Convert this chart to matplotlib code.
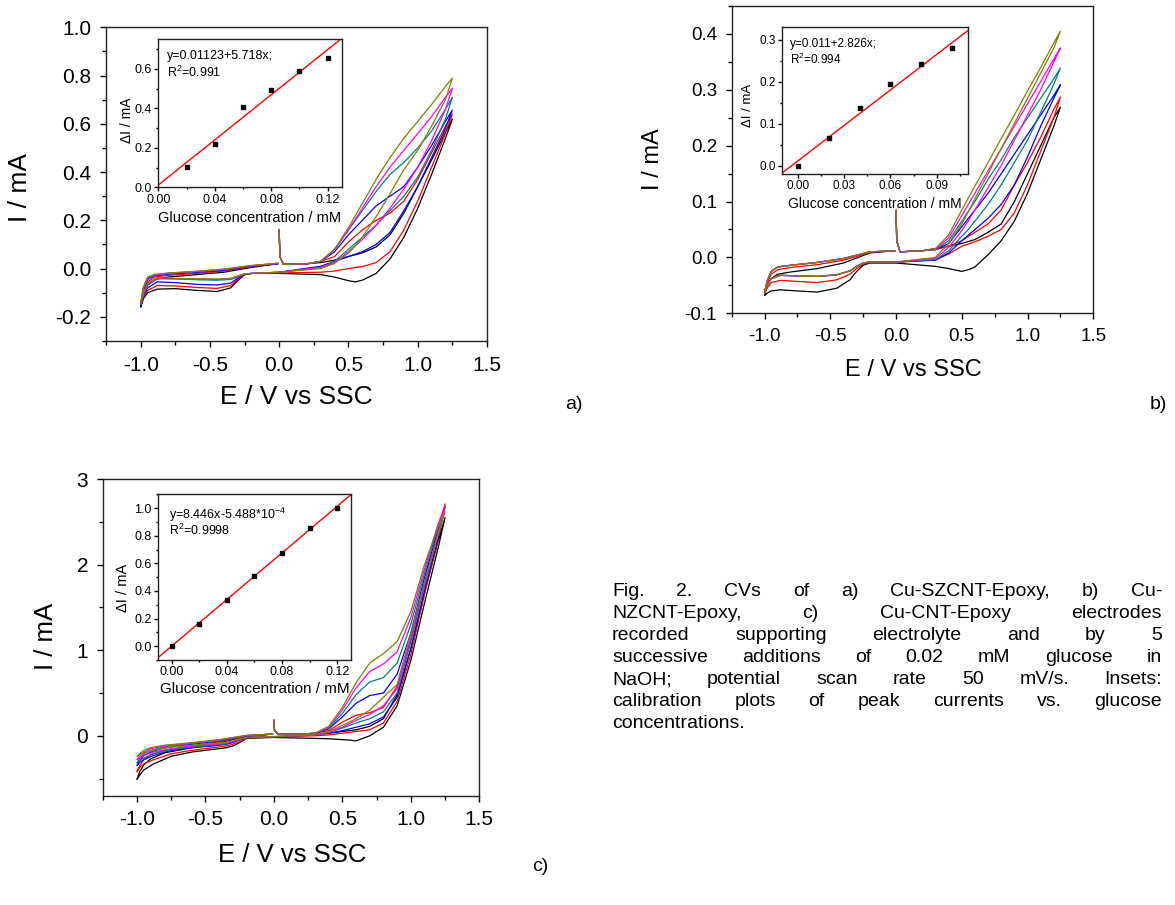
"""
plot.py
Purpose: CVs of three Cu/CNT-epoxy electrodes with calibration insets (Fig. 2)
"""

#%%# Import necessary libraries
import numpy as np
import matplotlib
matplotlib.use('Agg')
import matplotlib.pyplot as plt
from matplotlib.ticker import MultipleLocator, FormatStrFormatter

plt.rcParams['font.family'] = ['Liberation Sans', 'DejaVu Sans']
plt.rcParams['axes.unicode_minus'] = False
plt.rcParams['mathtext.fontset'] = 'custom'
plt.rcParams['mathtext.rm'] = 'Liberation Sans'
plt.rcParams['mathtext.it'] = 'Liberation Sans:italic'

# %%
# potential path of one cycle: start at 0 V (spike) -> 1.25 V -> -1.0 V -> 0 V
E_path = [0.0, 0.005, 0.03, 0.2, 0.3, 0.4, 0.5, 0.6, 0.7, 0.8, 0.9, 1.0, 1.1, 1.2, 1.25,
          1.2, 1.1, 1.0, 0.9, 0.8, 0.7, 0.6, 0.55, 0.5, 0.4, 0.3, 0.0, -0.2, -0.25, -0.3,
          -0.35, -0.45, -0.6, -0.75, -0.88, -0.95, -0.98, -1.0,
          -0.98, -0.95, -0.9, -0.8, -0.6, -0.4, -0.2, -0.01]

cv_colors = ['#000000', '#ff0000', '#0000ff', '#008080', '#ff00ff', '#808000']

# a) Cu-SZCNT-Epoxy, current in mA (black, red, blue, teal, magenta, olive)
cv_a = [
    [0.16, 0.05, 0.018, 0.02, 0.025, 0.035, 0.05, 0.065, 0.09, 0.14, 0.23, 0.34, 0.45, 0.565, 0.62,
     0.54, 0.39, 0.25, 0.13, 0.04, -0.02, -0.048, -0.055, -0.05, -0.035, -0.025, -0.02, -0.02, -0.025, -0.05,
     -0.08, -0.095, -0.09, -0.083, -0.085, -0.1, -0.125, -0.16,
     -0.11, -0.065, -0.045, -0.035, -0.025, -0.015, 0.005, 0.02],
    [0.16, 0.05, 0.018, 0.02, 0.03, 0.05, 0.11, 0.16, 0.2, 0.23, 0.28, 0.37, 0.48, 0.59, 0.64,
     0.56, 0.42, 0.28, 0.16, 0.07, 0.025, 0.008, 0.005, 0.0, -0.01, -0.015, -0.018, -0.02, -0.025, -0.045,
     -0.07, -0.082, -0.078, -0.072, -0.07, -0.09, -0.12, -0.155,
     -0.1, -0.055, -0.035, -0.028, -0.02, -0.01, 0.008, 0.02],
    [0.16, 0.05, 0.018, 0.02, 0.03, 0.07, 0.14, 0.2, 0.26, 0.3, 0.34, 0.42, 0.51, 0.61, 0.657,
     0.58, 0.46, 0.34, 0.24, 0.15, 0.1, 0.07, 0.06, 0.05, 0.03, 0.01, -0.015, -0.02, -0.025, -0.04,
     -0.06, -0.068, -0.065, -0.058, -0.055, -0.08, -0.115, -0.155,
     -0.09, -0.045, -0.03, -0.023, -0.016, -0.007, 0.01, 0.02],
    [0.16, 0.05, 0.018, 0.02, 0.03, 0.08, 0.16, 0.24, 0.32, 0.39, 0.44, 0.5, 0.57, 0.66, 0.71,
     0.62, 0.49, 0.38, 0.3, 0.24, 0.18, 0.13, 0.105, 0.08, 0.03, 0.005, -0.015, -0.02, -0.022, -0.035,
     -0.045, -0.048, -0.046, -0.043, -0.042, -0.07, -0.11, -0.15,
     -0.08, -0.04, -0.027, -0.02, -0.013, -0.004, 0.012, 0.022],
    [0.16, 0.05, 0.018, 0.02, 0.03, 0.08, 0.16, 0.25, 0.34, 0.42, 0.49, 0.56, 0.63, 0.71, 0.747,
     0.66, 0.53, 0.42, 0.33, 0.25, 0.18, 0.12, 0.095, 0.07, 0.025, 0.005, -0.015, -0.02, -0.022, -0.032,
     -0.042, -0.045, -0.044, -0.042, -0.04, -0.065, -0.105, -0.145,
     -0.08, -0.04, -0.026, -0.019, -0.012, -0.003, 0.012, 0.022],
    [0.16, 0.05, 0.018, 0.02, 0.03, 0.08, 0.17, 0.27, 0.37, 0.46, 0.54, 0.61, 0.68, 0.755, 0.789,
     0.7, 0.59, 0.49, 0.41, 0.31, 0.215, 0.13, 0.095, 0.065, 0.022, 0.0, -0.015, -0.02, -0.022, -0.03,
     -0.04, -0.043, -0.042, -0.04, -0.038, -0.06, -0.1, -0.14,
     -0.075, -0.035, -0.024, -0.018, -0.011, -0.002, 0.013, 0.022],
]

# b) Cu-NZCNT-Epoxy
cv_b = [
    [0.084, 0.03, 0.01, 0.012, 0.016, 0.02, 0.025, 0.032, 0.045, 0.06, 0.1, 0.15, 0.2, 0.25, 0.269,
     0.235, 0.175, 0.115, 0.065, 0.03, 0.005, -0.017, -0.022, -0.025, -0.02, -0.016, -0.01, -0.01, -0.014, -0.025,
     -0.04, -0.055, -0.062, -0.06, -0.058, -0.06, -0.064, -0.068,
     -0.05, -0.038, -0.03, -0.026, -0.02, -0.01, 0.008, 0.012],
    [0.084, 0.03, 0.01, 0.012, 0.014, 0.02, 0.03, 0.045, 0.06, 0.085, 0.13, 0.17, 0.215, 0.265, 0.287,
     0.25, 0.19, 0.13, 0.08, 0.05, 0.038, 0.028, 0.024, 0.02, 0.006, -0.004, -0.009, -0.009, -0.012, -0.02,
     -0.03, -0.04, -0.045, -0.043, -0.041, -0.045, -0.055, -0.065,
     -0.045, -0.03, -0.022, -0.018, -0.013, -0.005, 0.009, 0.012],
    [0.084, 0.03, 0.01, 0.012, 0.014, 0.025, 0.055, 0.085, 0.115, 0.15, 0.185, 0.22, 0.255, 0.29, 0.309,
     0.285, 0.235, 0.18, 0.13, 0.095, 0.07, 0.05, 0.04, 0.03, 0.008, -0.005, -0.008, -0.008, -0.01, -0.016,
     -0.024, -0.031, -0.034, -0.033, -0.032, -0.038, -0.05, -0.062,
     -0.042, -0.025, -0.017, -0.014, -0.009, -0.002, 0.01, 0.012],
    [0.084, 0.03, 0.01, 0.012, 0.014, 0.03, 0.065, 0.1, 0.14, 0.175, 0.215, 0.25, 0.285, 0.32, 0.339,
     0.31, 0.26, 0.21, 0.17, 0.13, 0.095, 0.065, 0.05, 0.038, 0.012, -0.004, -0.008, -0.008, -0.01, -0.016,
     -0.024, -0.031, -0.034, -0.033, -0.032, -0.038, -0.05, -0.062,
     -0.042, -0.025, -0.017, -0.014, -0.009, -0.002, 0.01, 0.012],
    [0.084, 0.03, 0.01, 0.012, 0.015, 0.035, 0.075, 0.115, 0.155, 0.195, 0.235, 0.275, 0.315, 0.355, 0.375,
     0.35, 0.3, 0.255, 0.21, 0.165, 0.125, 0.085, 0.066, 0.048, 0.018, -0.002, -0.008, -0.008, -0.01, -0.016,
     -0.024, -0.031, -0.034, -0.033, -0.032, -0.038, -0.05, -0.062,
     -0.042, -0.025, -0.017, -0.014, -0.009, -0.002, 0.01, 0.012],
    [0.084, 0.03, 0.01, 0.012, 0.016, 0.04, 0.085, 0.128, 0.17, 0.213, 0.255, 0.298, 0.34, 0.384, 0.405,
     0.375, 0.33, 0.285, 0.24, 0.195, 0.15, 0.105, 0.082, 0.06, 0.025, 0.0, -0.008, -0.008, -0.01, -0.016,
     -0.024, -0.031, -0.034, -0.033, -0.032, -0.038, -0.05, -0.062,
     -0.042, -0.025, -0.017, -0.014, -0.009, -0.002, 0.01, 0.012],
]

# c) Cu-CNT-Epoxy
cv_c = [
    [0.18, 0.06, 0.02, 0.02, 0.02, 0.03, 0.05, 0.07, 0.11, 0.2, 0.48, 1.02, 1.68, 2.28, 2.55,
     2.2, 1.55, 0.88, 0.35, 0.1, 0.0, -0.06, -0.05, -0.045, -0.035, -0.03, -0.02, -0.03, -0.08, -0.12,
     -0.14, -0.16, -0.19, -0.24, -0.33, -0.4, -0.46, -0.51,
     -0.42, -0.34, -0.27, -0.2, -0.14, -0.08, -0.01, 0.02],
    [0.18, 0.06, 0.02, 0.02, 0.03, 0.06, 0.16, 0.24, 0.27, 0.33, 0.58, 1.12, 1.8, 2.4, 2.71,
     2.3, 1.65, 0.95, 0.4, 0.15, 0.07, 0.05, 0.04, 0.03, 0.01, 0.0, -0.015, -0.025, -0.07, -0.1,
     -0.12, -0.14, -0.17, -0.21, -0.28, -0.33, -0.37, -0.42,
     -0.35, -0.28, -0.22, -0.17, -0.12, -0.07, -0.005, 0.02],
    [0.18, 0.06, 0.02, 0.02, 0.03, 0.08, 0.22, 0.38, 0.47, 0.5, 0.72, 1.2, 1.85, 2.42, 2.68,
     2.32, 1.7, 1.02, 0.45, 0.22, 0.14, 0.1, 0.08, 0.06, 0.03, 0.01, -0.01, -0.02, -0.05, -0.08,
     -0.1, -0.12, -0.14, -0.17, -0.23, -0.28, -0.31, -0.35,
     -0.29, -0.23, -0.19, -0.14, -0.1, -0.06, 0.0, 0.02],
    [0.18, 0.06, 0.02, 0.02, 0.03, 0.09, 0.26, 0.48, 0.63, 0.68, 0.85, 1.3, 1.9, 2.45, 2.66,
     2.36, 1.75, 1.1, 0.5, 0.28, 0.2, 0.15, 0.12, 0.09, 0.04, 0.01, -0.01, -0.02, -0.045, -0.07,
     -0.09, -0.11, -0.13, -0.16, -0.21, -0.26, -0.29, -0.32,
     -0.27, -0.21, -0.17, -0.13, -0.09, -0.055, 0.0, 0.02],
    [0.18, 0.06, 0.02, 0.02, 0.03, 0.1, 0.3, 0.56, 0.75, 0.84, 0.98, 1.38, 1.95, 2.48, 2.68,
     2.38, 1.78, 1.15, 0.55, 0.35, 0.25, 0.18, 0.14, 0.1, 0.04, 0.01, -0.01, -0.02, -0.04, -0.065,
     -0.085, -0.1, -0.12, -0.15, -0.19, -0.23, -0.26, -0.28,
     -0.24, -0.19, -0.15, -0.12, -0.085, -0.05, 0.005, 0.02],
    [0.18, 0.06, 0.02, 0.02, 0.03, 0.11, 0.33, 0.62, 0.85, 0.96, 1.1, 1.45, 2.0, 2.45, 2.62,
     2.35, 1.8, 1.2, 0.6, 0.45, 0.3, 0.2, 0.16, 0.12, 0.05, 0.01, -0.01, -0.02, -0.035, -0.06,
     -0.075, -0.09, -0.11, -0.13, -0.17, -0.2, -0.22, -0.24,
     -0.21, -0.17, -0.14, -0.11, -0.08, -0.045, 0.005, 0.02],
]

# calibration insets
conc_a = [0.02, 0.04, 0.06, 0.08, 0.10, 0.12]
dI_a = [0.102, 0.219, 0.409, 0.495, 0.59, 0.653]
fit_a = (0.01123, 5.718)   # intercept, slope

conc_b = [0.0, 0.02, 0.04, 0.06, 0.08, 0.10]
dI_b = [0.0, 0.065, 0.138, 0.195, 0.242, 0.28]
fit_b = (0.011, 2.826)

conc_c = [0.0, 0.02, 0.04, 0.06, 0.08, 0.10, 0.12]
dI_c = [0.0, 0.164, 0.333, 0.507, 0.676, 0.857, 1.0]
fit_c = (-5.488e-4, 8.446)

caption_lines = [
    'Fig. 2. CVs of a) Cu-SZCNT-Epoxy, b) Cu-',
    'NZCNT-Epoxy, c) Cu-CNT-Epoxy electrodes',
    'recorded supporting electrolyte and by 5',
    'successive additions of 0.02 mM glucose in',
    'NaOH; potential scan rate 50 mV/s. Insets:',
    'calibration plots of peak currents vs. glucose',
    'concentrations.',
]

# %%
W, H = 1175, 905
fig = plt.figure(figsize=(W / 100, H / 100), dpi=100)


def px_axes(l, t, r, b):
    # axes from pixel box (left, top, right, bottom)
    return fig.add_axes([l / W, 1 - b / H, (r - l) / W, (b - t) / H])


def style(ax, fs, length=4, pad=4):
    ax.tick_params(which='both', direction='out', top=False, right=False,
                   labelsize=fs, width=1, colors='black')
    ax.tick_params(which='major', length=length, pad=pad)
    ax.tick_params(which='minor', length=length * 0.6)
    for s in ax.spines.values():
        s.set_linewidth(1.0)
        s.set_color('#222222')


def cv_panel(box, curves, ylim, ymaj, ymin, yfmt, fs, lfs, xl, yl):
    ax = px_axes(*box)
    for I, c in zip(curves, cv_colors):
        ax.plot(E_path, I, color=c, lw=0.9)
    ax.set_xlim(-1.25, 1.5)
    ax.set_ylim(*ylim)
    ax.xaxis.set_major_locator(MultipleLocator(0.5))
    ax.xaxis.set_minor_locator(MultipleLocator(0.25))
    ax.xaxis.set_major_formatter(FormatStrFormatter('%.1f'))
    ax.yaxis.set_major_locator(MultipleLocator(ymaj))
    ax.yaxis.set_minor_locator(MultipleLocator(ymin))
    ax.yaxis.set_major_formatter(FormatStrFormatter(yfmt))
    style(ax, fs, length=4.5, pad=6)
    ax.set_xlabel('E / V vs SSC', fontsize=lfs)
    ax.set_ylabel('I / mA', fontsize=lfs)
    ax.xaxis.set_label_coords(*xl)
    ax.yaxis.set_label_coords(*yl)
    return ax


def inset(box, conc, dI, fit, xlim, ylim, xmaj, ymaj, xfmt, yfmt, fs, lfs, txt, xl, yl):
    ax = px_axes(*box)
    xs = np.array(xlim)
    ax.plot(xs, fit[0] + fit[1] * xs, color='red', lw=1.0)
    ax.plot(conc, dI, 's', color='black', ms=3.2)
    ax.set_xlim(*xlim)
    ax.set_ylim(*ylim)
    ax.xaxis.set_major_locator(MultipleLocator(xmaj))
    ax.xaxis.set_minor_locator(MultipleLocator(xmaj / 2))
    ax.yaxis.set_major_locator(MultipleLocator(ymaj))
    ax.yaxis.set_minor_locator(MultipleLocator(ymaj / 2))
    ax.xaxis.set_major_formatter(FormatStrFormatter(xfmt))
    ax.yaxis.set_major_formatter(FormatStrFormatter(yfmt))
    style(ax, fs, length=3, pad=1.5)
    ax.set_xlabel('Glucose concentration / mM', fontsize=lfs)
    ax.set_ylabel('ΔI / mA', fontsize=lfs - 0.5)
    ax.xaxis.set_label_coords(*xl)
    ax.yaxis.set_label_coords(*yl)
    for (tx, ty, s) in txt:
        ax.text(tx, ty, s, transform=ax.transAxes, fontsize=fs, va='top', ha='left')
    return ax


# panel a
cv_panel((106, 27.3, 487, 341), cv_a, (-0.3, 1.0), 0.2, 0.1, '%.1f', 15, 19,
         (0.5, -0.14), (-0.195, 0.488))
inset((158.3, 39.3, 341.7, 187.3), conc_a, dI_a, fit_a, (0.0, 0.13), (0.0, 0.75),
      0.04, 0.2, '%.2f', '%.1f', 9, 10.5,
      [(0.046, 0.925, 'y=0.01123+5.718x;'), (0.046, 0.825, 'R$^2$=0.991')],
      (0.5, -0.16), (-0.13, 0.45))

# panel b
cv_panel((731.7, 6, 1093.3, 313.3), cv_b, (-0.1, 0.45), 0.1, 0.05, '%.1f', 13.5, 17,
         (0.502, -0.15), (-0.187, 0.502))
inset((782.3, 27.3, 967.7, 174), conc_b, dI_b, fit_b, (-0.01, 0.11), (-0.02, 0.33),
      0.03, 0.1, '%.2f', '%.1f', 8.5, 10,
      [(0.042, 0.93, 'y=0.011+2.826x;'), (0.042, 0.83, 'R$^2$=0.994')],
      (0.5, -0.155), (-0.15, 0.465))

# panel c
cv_panel((102.7, 479, 479.3, 795.7), cv_c, (-0.7, 3.0), 1, 0.5, '%d', 15, 18.5,
         (0.502, -0.15), (-0.118, 0.502))
inset((157.7, 494.3, 351, 660), conc_c, dI_c, fit_c, (-0.01, 0.13), (-0.1, 1.1),
      0.04, 0.2, '%.2f', '%.1f', 9, 11,
      [(0.058, 0.93, 'y=8.446x-5.488*10$^{-4}$'), (0.058, 0.83, 'R$^2$=0.9998')],
      (0.503, -0.13), (-0.145, 0.4375))

# panel tags
fig.text(574 / W, 1 - 404 / H, 'a)', fontsize=14, ha='center', va='center')
fig.text(1158 / W, 1 - 404 / H, 'b)', fontsize=14, ha='center', va='center')
fig.text(540 / W, 1 - 866 / H, 'c)', fontsize=14, ha='center', va='center')

# %%
# justified caption block, placed word by word
rend = fig.canvas.get_renderer()
left, right, base0, step, cfs = 612, 1162, 596, 22, 14
for k, line in enumerate(caption_lines):
    words = line.split()
    y = 1 - (base0 + k * step) / H
    texts = [fig.text(0, y, w, fontsize=cfs, ha='left', va='baseline') for w in words]
    widths = [t.get_window_extent(rend).width for t in texts]
    if k == len(caption_lines) - 1 or len(words) < 2:
        gap = 0.28 * cfs * 100 / 72
    else:
        gap = (right - left - sum(widths)) / (len(words) - 1)
    x = left
    for t, w in zip(texts, widths):
        t.set_x(x / W)
        x += w + gap

fig.savefig('out.png', dpi=100)
